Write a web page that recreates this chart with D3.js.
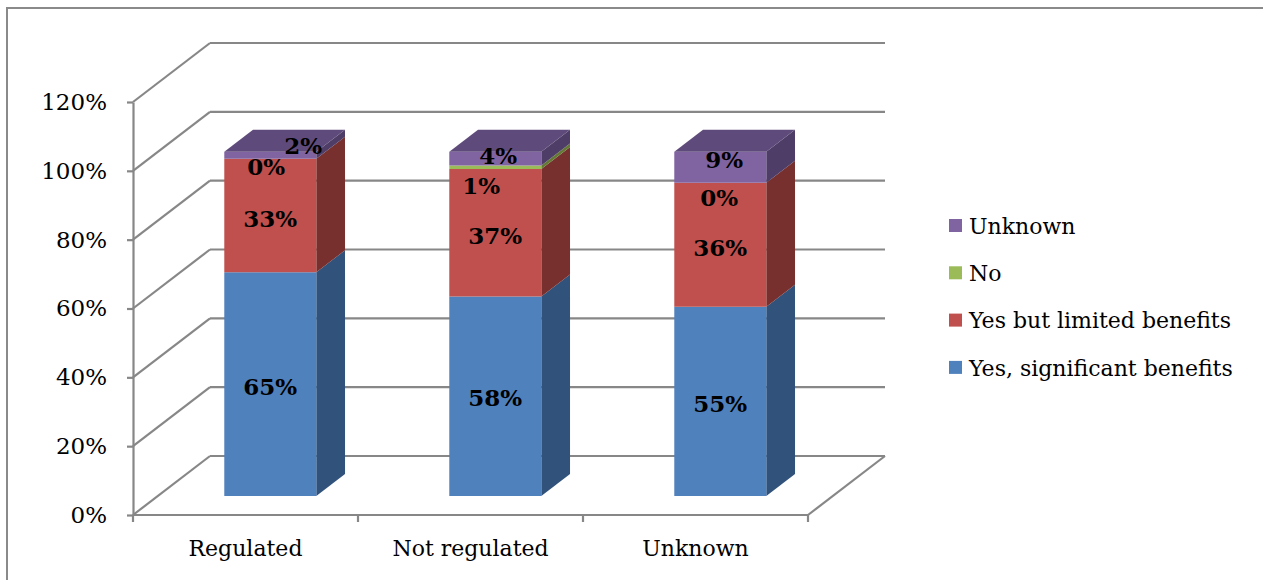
<!DOCTYPE html>
<html>
<head>
<meta charset="utf-8">
<script src="https://cdn.jsdelivr.net/npm/d3@7"></script>
<style>
  html, body { margin: 0; padding: 0; background: #fff; }
  svg { display: block; }
  text { font-family: "DejaVu Serif", serif; fill: #000; }
</style>
</head>
<body>
<svg id="chart" width="1263" height="580"></svg>
<script>
// ---- data ----
const categories = ["Regulated", "Not regulated", "Unknown"];
const seriesNames = ["Yes, significant benefits", "Yes but limited benefits", "No", "Unknown"];
const yesSignificant = [0.65, 0.58, 0.55];
const yesLimited = [0.33, 0.37, 0.36];
const noValues = [0.00, 0.01, 0.00];
const unknownValues = [0.02, 0.04, 0.09];
const yTicks = [0, 0.2, 0.4, 0.6, 0.8, 1.0, 1.2];

// ---- styles ----
const frontColors = ["#4F81BD", "#C0504D", "#9BBB59", "#8064A2"];
const sideColors  = ["#31527A", "#78302E", "#647A34", "#4E3D66"];
const topColors   = ["#3E6697", "#9A3F3C", "#7E9848", "#5F4B7B"];
const gridColor = "#878787";

const svg = d3.select("#chart");

// border
svg.append("path")
  .attr("d", "M7,590 L7,8 L1270,8")
  .attr("fill", "none").attr("stroke", "#8A8A8A").attr("stroke-width", 2);

// geometry of 3D projection
const depthDX = 77, depthDY = 59;
const plotLeft = 133, plotRight = 808;
const y = d3.scaleLinear().domain([0, 1.2]).range([515, 102]);
const x = d3.scaleBand().domain(categories).range([plotLeft, plotRight])
  .paddingInner(0.591).paddingOuter(0.2955);
const zFront = 0.322, zBack = 0.695;
const proj = (px, py, z) => [px + z * depthDX, py - z * depthDY];

const g = svg.append("g");

// left wall diagonals + back wall gridlines
yTicks.forEach(t => {
  const y0 = y(t);
  const [bx, by] = proj(plotLeft, y0, 1);
  g.append("line").attr("x1", plotLeft).attr("y1", y0).attr("x2", bx).attr("y2", by)
    .attr("stroke", gridColor).attr("stroke-width", 2.2);
  g.append("line").attr("x1", bx).attr("y1", by).attr("x2", plotRight + depthDX).attr("y2", by)
    .attr("stroke", gridColor).attr("stroke-width", 2.2);
});
// floor right edge
{
  const [bx, by] = proj(plotRight, y(0), 1);
  g.append("line").attr("x1", plotRight).attr("y1", y(0)).attr("x2", bx).attr("y2", by)
    .attr("stroke", gridColor).attr("stroke-width", 2.2);
}

// y axis
const yAxis = d3.axisLeft(y).tickValues(yTicks).tickSize(6).tickSizeOuter(0).tickPadding(20)
  .tickFormat(d => Math.round(d * 100) + "%");
const yg = svg.append("g").attr("transform", `translate(${plotLeft},0)`).call(yAxis);
yg.select(".domain").attr("stroke", gridColor).attr("stroke-width", 2.2);
yg.selectAll(".tick line").attr("stroke", gridColor).attr("stroke-width", 2.2);
yg.selectAll(".tick text").style("font-family", "DejaVu Serif").style("font-size", "23px").attr("fill", "#000");

// x axis
const xAxis = d3.axisBottom(x).tickSize(0).tickSizeOuter(0).tickPadding(25);
const xg = svg.append("g").attr("transform", `translate(0,${y(0)})`).call(xAxis);
xg.select(".domain").remove();
xg.append("line").attr("x1", plotLeft).attr("x2", plotRight).attr("y1", 0).attr("y2", 0)
  .attr("stroke", gridColor).attr("stroke-width", 2.2);
const boundaries = [plotLeft].concat(categories.map(c => x(c) + x.bandwidth() + x.step() * x.paddingInner() / 2));
boundaries[boundaries.length - 1] = plotRight;
boundaries.forEach(b => {
  xg.append("line").attr("x1", b).attr("x2", b).attr("y1", 0).attr("y2", 7)
    .attr("stroke", gridColor).attr("stroke-width", 2.2);
});
xg.selectAll(".tick text").style("font-family", "DejaVu Serif").style("font-size", "22px").attr("fill", "#000");

// stacked 3D bars
const seriesValues = [yesSignificant, yesLimited, noValues, unknownValues];
const rows = categories.map((c, i) => {
  const o = { category: c };
  seriesNames.forEach((s, k) => o[s] = seriesValues[k][i]);
  return o;
});
const stack = d3.stack().keys(seriesNames)(rows);

const barG = svg.append("g");
const poly = pts => "M" + pts.map(p => p.join(",")).join("L") + "Z";
categories.forEach((c, i) => {
  const x0f = x(c), x1f = x(c) + x.bandwidth();
  let topK = 0;
  stack.forEach((layer, k) => { if (layer[i][1] - layer[i][0] > 0) topK = k; });
  stack.forEach((layer, k) => {
    const v0 = layer[i][0], v1 = layer[i][1];
    if (v1 - v0 <= 0) return;
    const yb = y(v0), yt = y(v1);
    const FL = proj(x0f, yb, zFront), FR = proj(x1f, yb, zFront);
    const TL = proj(x0f, yt, zFront), TR = proj(x1f, yt, zFront);
    const BR_b = proj(x1f, yb, zBack), BR_t = proj(x1f, yt, zBack), BL_t = proj(x0f, yt, zBack);
    barG.append("path").attr("d", poly([FR, BR_b, BR_t, TR])).attr("fill", sideColors[k]);
    barG.append("path").attr("d", poly([FL, FR, TR, TL])).attr("fill", frontColors[k]);
    if (k === topK) {
      barG.append("path").attr("d", poly([TL, TR, BR_t, BL_t])).attr("fill", topColors[k]);
    }
  });
});

// data labels (nudges for thin segments to avoid overlap)
const labelNudge = {
  "Regulated":     [[0, 3], [0, 3], [-4, 8], [33, -9]],
  "Not regulated": [[0, 2], [0, 3], [-14, 19], [3, -3]],
  "Unknown":       [[0, 3], [0, 3], [-1, 15], [4, -7]]
};
const labelG = svg.append("g");
categories.forEach((c, i) => {
  const xc = x(c) + x.bandwidth() / 2;
  stack.forEach((layer, k) => {
    const v0 = layer[i][0], v1 = layer[i][1];
    const [px, py] = proj(xc, y((v0 + v1) / 2), zFront);
    const n = labelNudge[c][k];
    labelG.append("text")
      .attr("x", px + n[0]).attr("y", py + n[1]).attr("dy", "0.35em")
      .attr("text-anchor", "middle")
      .style("font-family", "DejaVu Serif").style("font-weight", "bold").style("font-size", "23px")
      .text(Math.round((v1 - v0) * 100) + "%");
  });
});

// legend (reverse order)
const legendG = svg.append("g").attr("transform", "translate(949,219)");
const legendOrder = seriesNames.map((s, k) => k).reverse();
legendOrder.forEach((k, j) => {
  const row = legendG.append("g").attr("transform", `translate(0,${j * 47.3})`);
  row.append("rect").attr("width", 13).attr("height", 13).attr("fill", frontColors[k]);
  row.append("text").attr("x", 20).attr("y", 7).attr("dy", "0.35em")
    .style("font-family", "DejaVu Serif").style("font-size", "22px")
    .text(seriesNames[k]);
});
</script>
</body>
</html>
